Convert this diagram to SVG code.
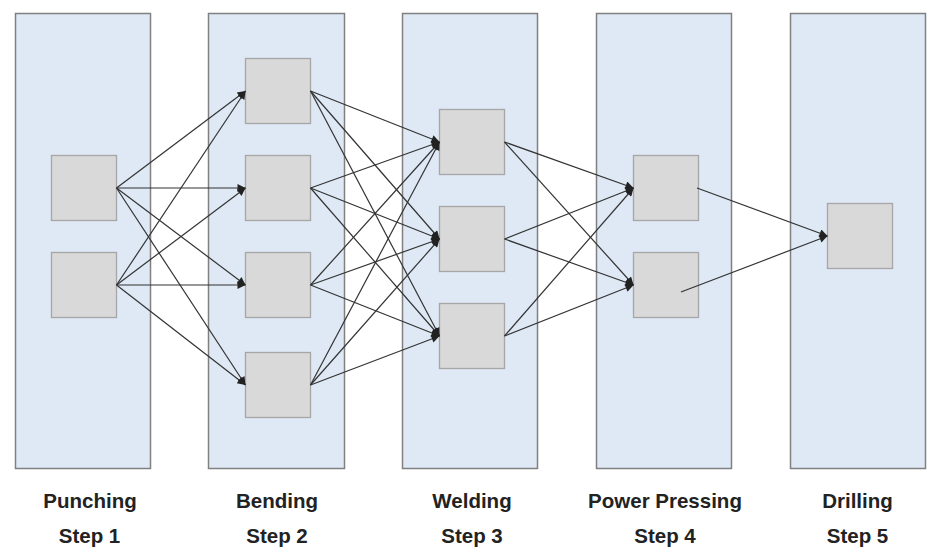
<svg xmlns="http://www.w3.org/2000/svg" width="941" height="553" viewBox="0 0 941 553">
<style>
.lane{fill:#dee9f5;stroke:#808080;stroke-width:1.5}
.box{fill:#d9d9d9;stroke:#a6a6a6;stroke-width:1.3}
.c{fill:none;stroke:#333;stroke-width:1.2;marker-end:url(#ah)}
.lbl{font-family:"Liberation Sans",Arial,sans-serif;font-weight:bold;font-size:20.5px;fill:#222;text-anchor:middle}
</style>
<defs>
<marker id="ah" viewBox="0 0 10 10" refX="10" refY="5" markerWidth="10" markerHeight="8" markerUnits="userSpaceOnUse" orient="auto">
<path d="M0,0 L10,5 L0,10 z" fill="#222"/>
</marker>
</defs>
<g id="lanes">
<rect id="lane1" class="lane" x="15.5" y="13.5" width="135" height="455"/>
<rect id="lane2" class="lane" x="208.5" y="13.5" width="136" height="455"/>
<rect id="lane3" class="lane" x="402.5" y="13.5" width="135" height="455"/>
<rect id="lane4" class="lane" x="596.5" y="13.5" width="135" height="455"/>
<rect id="lane5" class="lane" x="790.5" y="13.5" width="135" height="455"/>
</g>
<g id="n1a"><rect class="box" x="51.5" y="155.5" width="65" height="65"/></g>
<g id="n1b"><rect class="box" x="51.5" y="252.5" width="65" height="65"/></g>
<g id="n2a"><rect class="box" x="245.5" y="58.5" width="65" height="65"/></g>
<g id="n2b"><rect class="box" x="245.5" y="155.5" width="65" height="65"/></g>
<g id="n2c"><rect class="box" x="245.5" y="252.5" width="65" height="65"/></g>
<g id="n2d"><rect class="box" x="245.5" y="352.5" width="65" height="65"/></g>
<g id="n3a"><rect class="box" x="439.5" y="109.5" width="65" height="65"/></g>
<g id="n3b"><rect class="box" x="439.5" y="206.5" width="65" height="65"/></g>
<g id="n3c"><rect class="box" x="439.5" y="303.5" width="65" height="65"/></g>
<g id="n4a"><rect class="box" x="633.5" y="155.5" width="65" height="65"/></g>
<g id="n4b"><rect class="box" x="633.5" y="252.5" width="65" height="65"/></g>
<g id="n5a"><rect class="box" x="827.5" y="203.5" width="65" height="65"/></g>
<g id="connectors">
<path class="c" d="M116.5,188 L245.5,91"/>
<path class="c" d="M116.5,188 L245.5,188"/>
<path class="c" d="M116.5,188 L245.5,285"/>
<path class="c" d="M116.5,188 L245.5,385"/>
<path class="c" d="M116.5,285 L245.5,91"/>
<path class="c" d="M116.5,285 L245.5,188"/>
<path class="c" d="M116.5,285 L245.5,285"/>
<path class="c" d="M116.5,285 L245.5,385"/>
<path class="c" d="M310.5,91 L439.5,142"/>
<path class="c" d="M310.5,91 L439.5,239"/>
<path class="c" d="M310.5,91 L439.5,336"/>
<path class="c" d="M310.5,188 L439.5,142"/>
<path class="c" d="M310.5,188 L439.5,239"/>
<path class="c" d="M310.5,188 L439.5,336"/>
<path class="c" d="M310.5,285 L439.5,142"/>
<path class="c" d="M310.5,285 L439.5,239"/>
<path class="c" d="M310.5,285 L439.5,336"/>
<path class="c" d="M310.5,385 L439.5,142"/>
<path class="c" d="M310.5,385 L439.5,239"/>
<path class="c" d="M310.5,385 L439.5,336"/>
<path class="c" d="M504.5,142 L633.5,188"/>
<path class="c" d="M504.5,142 L633.5,285"/>
<path class="c" d="M504.5,239 L633.5,188"/>
<path class="c" d="M504.5,239 L633.5,285"/>
<path class="c" d="M504.5,336 L633.5,188"/>
<path class="c" d="M504.5,336 L633.5,285"/>
<path class="c" d="M697,188 L827.5,236"/>
<path class="c" d="M681,292 L827.5,236"/>
</g>
<g id="labels">
<text class="lbl" x="90" y="508">Punching</text>
<text class="lbl" x="89.5" y="543">Step 1</text>
<text class="lbl" x="277" y="508">Bending</text>
<text class="lbl" x="277" y="543">Step 2</text>
<text class="lbl" x="472" y="508">Welding</text>
<text class="lbl" x="472" y="543">Step 3</text>
<text class="lbl" x="665" y="508">Power Pressing</text>
<text class="lbl" x="665" y="543">Step 4</text>
<text class="lbl" x="857.5" y="508">Drilling</text>
<text class="lbl" x="857.5" y="543">Step 5</text>
</g>
</svg>
